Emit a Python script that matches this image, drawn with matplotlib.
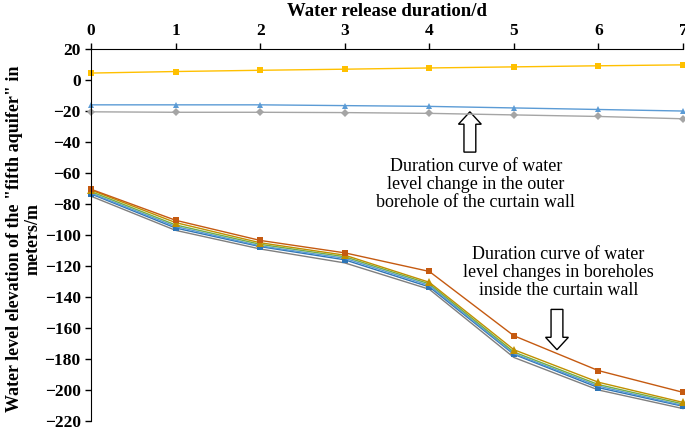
import numpy as np
import matplotlib.pyplot as plt
from matplotlib.patches import FancyArrow

plt.rcParams['font.family'] = ['Liberation Serif', 'DejaVu Serif']

days = [0, 1, 2, 3, 4, 5, 6, 7]

# outer borehole curves
outer_yellow = [4.5, 5.5, 6.3, 7.0, 7.8, 8.5, 9.2, 9.8]
outer_blue = [-16.0, -16.0, -16.0, -16.5, -17.0, -18.0, -19.0, -20.0]
outer_gray = [-20.5, -20.8, -20.8, -21.0, -21.5, -22.5, -23.5, -25.0]

# inside boreholes
in_brown = [-70.5, -90.5, -103.5, -111.5, -123.5, -165.0, -187.5, -201.5]
in_gold = [-71.0, -92.0, -105.0, -113.0, -130.5, -174.0, -195.0, -208.0]
in_green = [-72.0, -93.5, -106.0, -114.0, -131.5, -175.5, -196.5, -209.0]
in_blue = [-73.0, -94.5, -107.0, -115.0, -132.5, -176.5, -197.5, -210.0]
in_dblue = [-73.5, -95.5, -107.5, -116.0, -133.5, -177.0, -198.5, -210.5]
in_gray = [-75.0, -97.0, -109.0, -118.0, -135.0, -179.0, -200.0, -212.0]

yticks = list(range(-220, 21, 20))

fig = plt.figure(figsize=(6.85, 4.28), dpi=100)
ax = fig.add_axes([0.133, 0.0164, 0.864, 0.869])

series = [
    (outer_yellow, '#FFC000', 's', 5),
    (outer_blue, '#5B9BD5', '^', 5),
    (outer_gray, '#A5A5A5', 'D', 4),
    (in_gray, '#7F7F7F', 's', 0),
    (in_dblue, '#2E75B6', 's', 5),
    (in_blue, '#5B9BD5', 'D', 0),
    (in_green, '#70AD47', 'D', 0),
    (in_gold, '#BF9000', '^', 6),
    (in_brown, '#C55A11', 's', 5),
]
for vals, col, mk, ms in series:
    ax.plot(days, vals, color=col, lw=1.0, marker=mk, ms=ms,
            markeredgewidth=0, clip_on=False)

ax.set_xlim(0, 7)
ax.set_ylim(-220, 20)
ax.set_yticks(yticks)
ax.set_xticks(days)
ax.xaxis.tick_top()
ax.xaxis.set_label_position('top')
ax.spines['right'].set_visible(False)
ax.spines['bottom'].set_visible(False)
ax.spines['top'].set_color('black')
ax.spines['left'].set_color('black')
ax.tick_params(axis='both', direction='out', length=4, width=1,
               labelsize=12.5)
for lab in ax.get_xticklabels() + ax.get_yticklabels():
    lab.set_fontweight('bold')

ax.set_xlabel('Water release duration/d', fontsize=13.5, fontweight='bold',
              labelpad=5)
ax.set_ylabel('Water level elevation of the "fifth aquifer" in\nmeters/m',
              fontsize=13, fontweight='bold', linespacing=1.15)
ax.yaxis.set_label_coords(-0.083, 0.49)

ax.text(4.55, -50, 'Duration curve of water\nlevel change in the outer\n'
        'borehole of the curtain wall', ha='center', va='top',
        fontsize=13, linespacing=1.1)
ax.text(5.53, -107, 'Duration curve of water\nlevel changes in boreholes\n'
        'inside the curtain wall', ha='center', va='top',
        fontsize=13, linespacing=1.1)

ax.add_patch(FancyArrow(4.48, -46.5, 0, 26, width=0.14, head_width=0.27,
                        head_length=8, length_includes_head=True,
                        facecolor='white', edgecolor='black', lw=1.0))
ax.add_patch(FancyArrow(5.51, -148, 0, -26, width=0.14, head_width=0.27,
                        head_length=8, length_includes_head=True,
                        facecolor='white', edgecolor='black', lw=1.0))

fig.savefig('out.png', dpi=100)
